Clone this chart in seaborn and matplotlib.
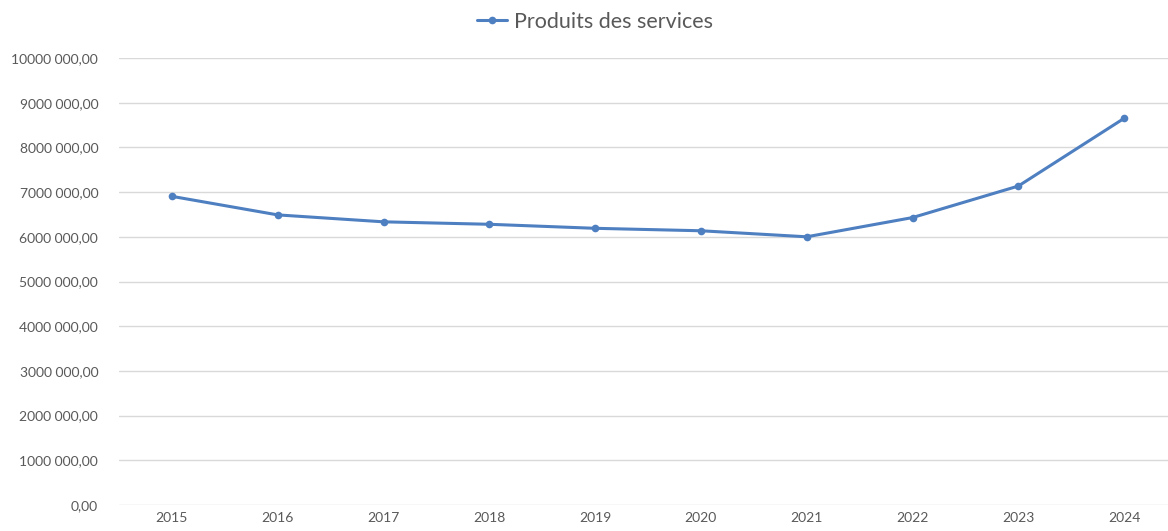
import numpy as np
import pandas as pd
import matplotlib
matplotlib.use("Agg")
import matplotlib.pyplot as plt
import seaborn as sns
from matplotlib.lines import Line2D

# données
annees = [2015, 2016, 2017, 2018, 2019, 2020, 2021, 2022, 2023, 2024]
produits = [6905000, 6490000, 6335000, 6280000, 6190000, 6135000, 6000000, 6430000, 7135000, 8650000]
serie_nom = "Produits des services"
y_ticks = [0, 1000000, 2000000, 3000000, 4000000, 5000000, 6000000, 7000000, 8000000, 9000000, 10000000]

couleur = "#4E7FC0"
gris = "#595959"

sns.set_theme(style="white")
plt.rcParams['font.family'] = ['Lato', 'DejaVu Sans']

df = pd.DataFrame({"annee": annees, "valeur": produits})

fig = plt.figure(figsize=(11.68, 5.31), dpi=100)
ax = fig.add_axes([119 / 1168, 26 / 531, 1058 / 1168, (505 - 58) / 531])

sns.lineplot(data=df, x="annee", y="valeur", ax=ax, color=couleur, linewidth=2.2,
             marker="o", markersize=5.5, markeredgewidth=0, zorder=3)

def fmt(v):
    v = int(round(v))
    if v == 0:
        return "0,00"
    return f"{v // 1000} {v % 1000:03d},00"

ax.set_ylim(0, 10000000)
ax.set_xlim(annees[0] - 0.5, annees[-1] + 0.5)
ax.set_yticks(y_ticks)
ax.set_yticklabels([fmt(v) for v in y_ticks])
ax.set_xticks(annees)
ax.set_xticklabels([str(a) for a in annees])
ax.tick_params(axis="both", labelsize=10, colors=gris, length=0)
ax.tick_params(axis="y", pad=15)
ax.tick_params(axis="x", pad=5)
ax.grid(axis="y", color="#D9D9D9", linewidth=1)
ax.set_axisbelow(True)
for s in ax.spines.values():
    s.set_visible(False)
ax.set_xlabel("")
ax.set_ylabel("")

handle = Line2D([0], [0], color=couleur, linewidth=2.2, marker="o", markersize=5.5, markeredgewidth=0)
fig.legend([handle], [serie_nom], loc="center", bbox_to_anchor=(595 / 1168, 1 - 22 / 531),
           frameon=False, fontsize=15.5, labelcolor=gris, handlelength=1.4, handletextpad=0.3)

fig.savefig("out.png", dpi=100, facecolor="white")
